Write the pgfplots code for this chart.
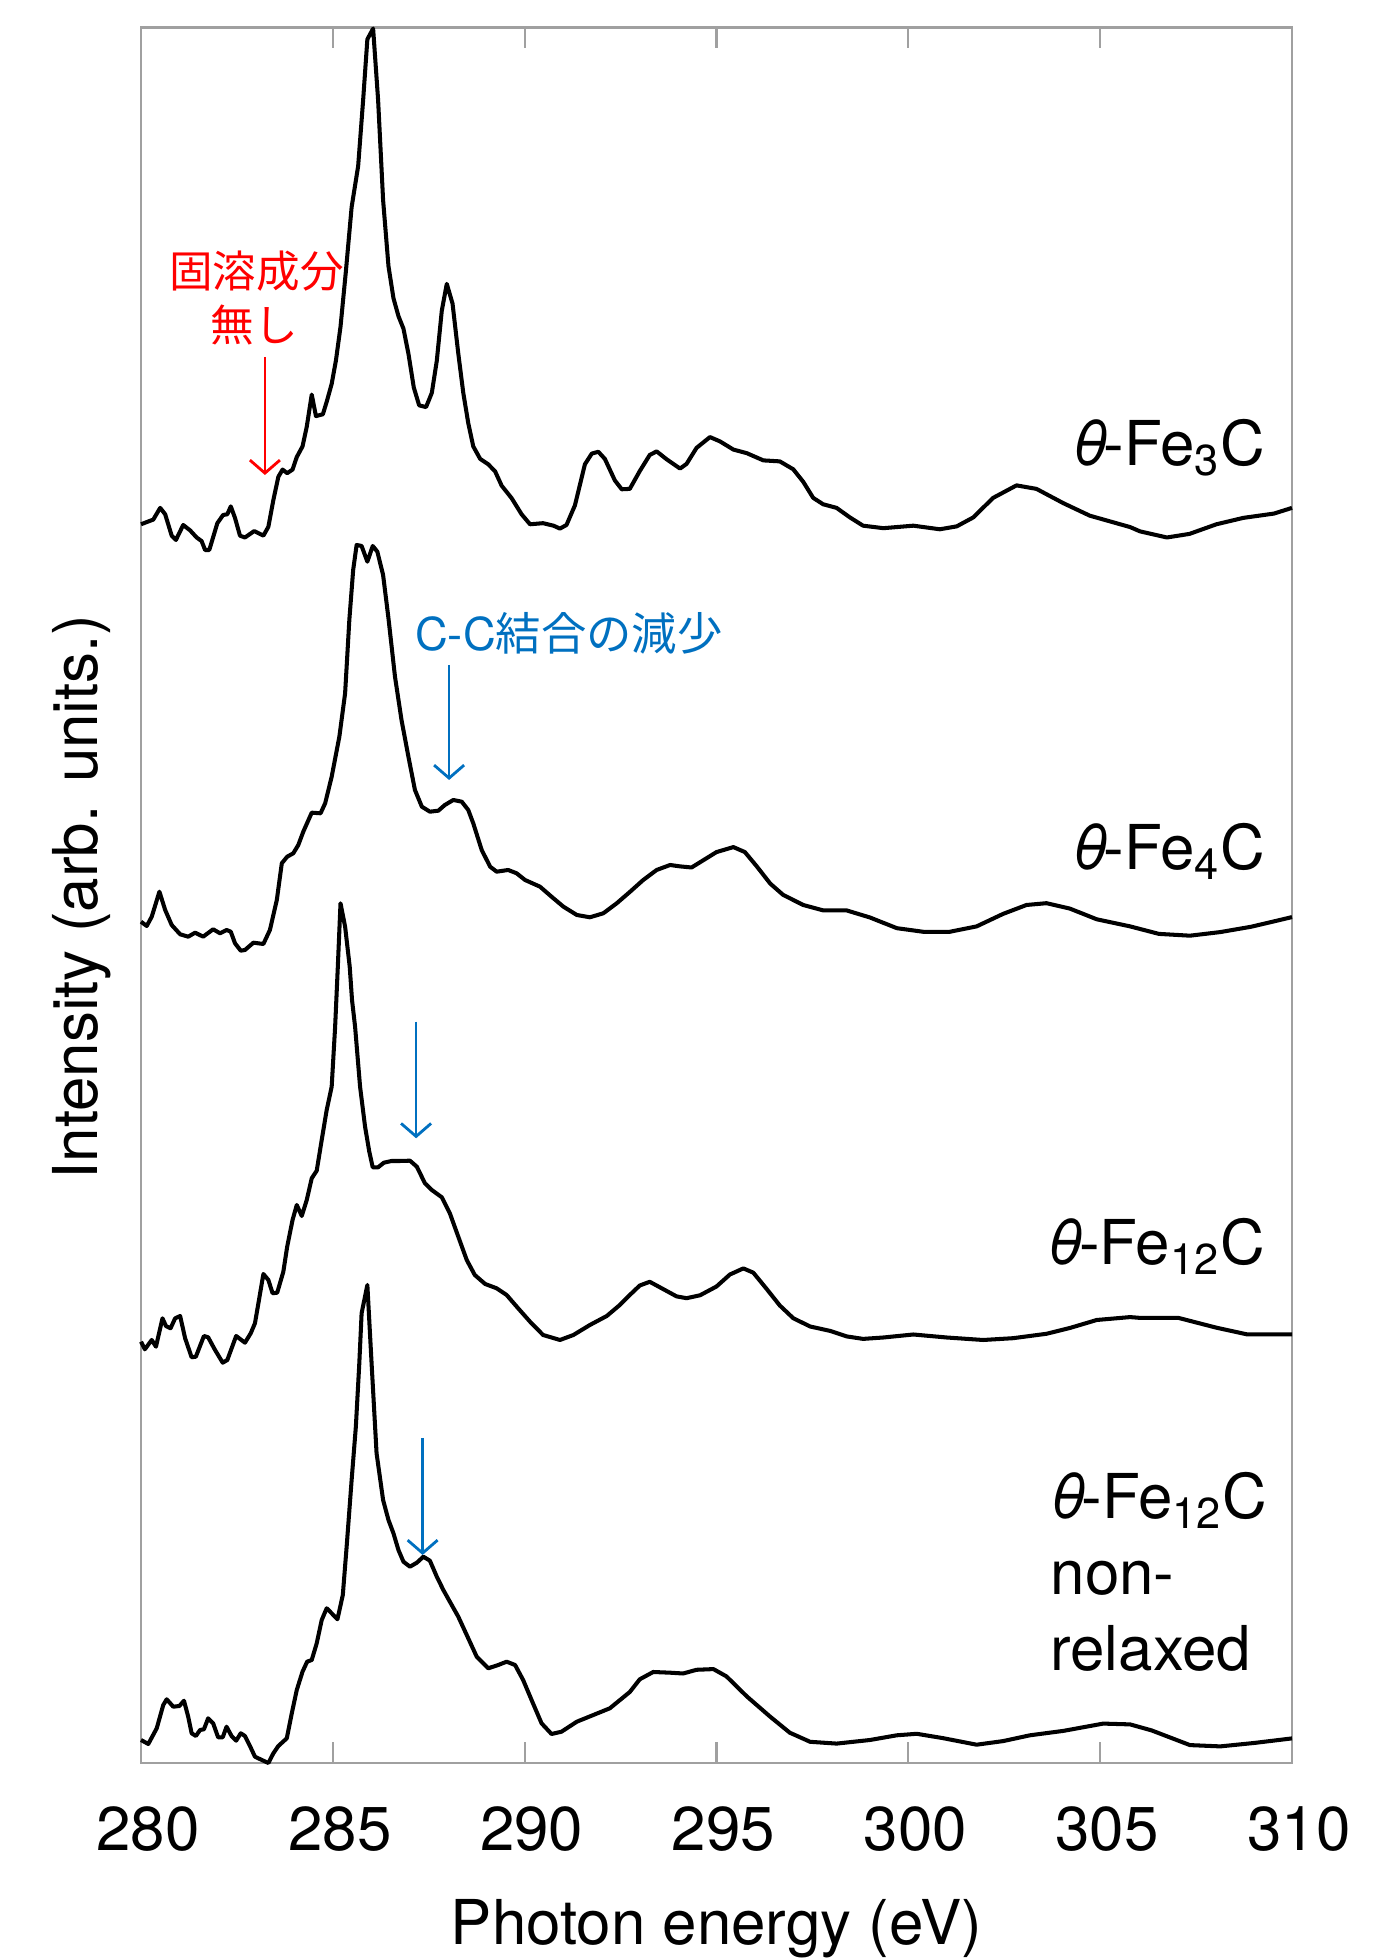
\documentclass[border=0pt]{standalone}
\usepackage{pgfplots}
\pgfplotsset{compat=1.18}
\usepackage{fontspec}
\setmainfont{TeX Gyre Heros}
\newfontfamily\jp{Noto Sans CJK JP}
\usetikzlibrary{arrows.meta}
\definecolor{annred}{RGB}{255,0,0}
\definecolor{annblue}{RGB}{0,112,192}
\definecolor{framegray}{RGB}{160,160,160}
\newcommand{\lab}{\fontsize{17.6}{21}\selectfont}
\newcommand{\jps}{\jp\fontsize{12.4}{15}\selectfont}
\newcommand{\jpb}{\jp\fontsize{12.9}{15}\selectfont}
\newcommand{\tht}{\textit{θ}\kern-0.08em}
\begin{document}
\begin{tikzpicture}
\path[use as bounding box] (0,0) rectangle (14cm,19.6cm);
\begin{axis}[
  at={(1.41cm,1.97cm)}, anchor=south west,
  width=11.51cm, height=17.355cm, scale only axis,
  xmin=280, xmax=310, ymin=-1763, ymax=-27.5,
  xtick={280,285,...,310}, ytick=\empty,
  tick align=inside,
  major tick length=0.21cm,
  axis line style={framegray, line width=0.6pt},
  major tick style={framegray, line width=0.6pt},
  xticklabel style={font=\lab, anchor=base, yshift=-0.87cm, xshift=0.07cm},
  /pgf/number format/assume math mode=true,
  clip=false,
]
% theta-Fe3C
\addplot[black, line width=1.15pt, line join=round, mark=none] coordinates {
(280.00,-524.3) (280.32,-519.6) (280.50,-507.9) (280.63,-514.3) (280.80,-535.7) (280.91,-540.0) (281.10,-525.0) (281.28,-530.4) (281.45,-537.5) (281.58,-541.1) (281.67,-550.0) (281.78,-550.0) (281.99,-523.2) (282.14,-515.0) (282.25,-514.3) (282.34,-506.4) (282.45,-517.9) (282.58,-535.7) (282.71,-537.5) (282.95,-531.1) (283.19,-535.7) (283.32,-526.8) (283.45,-500.0) (283.58,-476.8) (283.69,-469.6) (283.81,-473.2) (283.95,-469.6) (284.06,-457.1) (284.21,-446.4) (284.32,-426.8) (284.45,-394.6) (284.56,-416.1) (284.74,-414.3) (284.84,-401.8) (284.97,-383.9) (285.08,-360.7) (285.20,-326.8) (285.34,-271.4) (285.49,-207.1) (285.66,-166.1) (285.79,-100.0) (285.90,-39.3) (286.05,-28.6) (286.18,-100.0) (286.31,-200.0) (286.45,-266.1) (286.58,-298.2) (286.71,-316.1) (286.84,-328.6) (286.97,-353.6) (287.11,-387.5) (287.25,-405.4) (287.43,-407.1) (287.58,-392.9) (287.71,-360.7) (287.84,-310.7) (287.97,-283.9) (288.12,-303.6) (288.27,-353.6) (288.40,-392.9) (288.53,-423.2) (288.66,-446.4) (288.84,-458.9) (289.05,-464.3) (289.23,-471.4) (289.40,-485.7) (289.66,-498.2) (289.92,-514.3) (290.14,-524.3) (290.48,-523.2) (290.75,-525.7) (290.92,-528.6) (291.09,-525.0) (291.31,-505.4) (291.57,-464.3) (291.75,-453.6) (291.92,-451.8) (292.09,-458.9) (292.35,-480.4) (292.53,-489.3) (292.74,-488.9) (293.00,-471.1) (293.26,-455.0) (293.44,-451.4) (293.70,-459.3) (294.05,-468.6) (294.22,-463.9) (294.48,-447.9) (294.83,-437.1) (295.09,-441.4) (295.44,-449.6) (295.79,-453.2) (296.22,-460.4) (296.65,-461.4) (297.00,-469.3) (297.26,-481.8) (297.52,-497.9) (297.78,-504.3) (298.13,-507.9) (298.48,-517.5) (298.82,-525.7) (299.35,-528.2) (300.13,-525.7) (300.82,-529.3) (301.26,-526.4) (301.69,-517.5) (302.21,-497.9) (302.82,-485.4) (303.34,-488.9) (304.04,-503.2) (304.73,-515.7) (305.78,-527.1) (306.04,-531.4) (306.74,-537.5) (307.33,-533.9) (308.03,-524.3) (308.73,-517.9) (309.53,-513.6) (310.00,-507.9)
};
% theta-Fe4C
\addplot[black, line width=1.15pt, line join=round, mark=none] coordinates {
(280.00,-921.7) (280.15,-926.0) (280.28,-916.7) (280.48,-891.7) (280.63,-910.0) (280.80,-925.0) (281.02,-934.3) (281.23,-936.7) (281.41,-932.7) (281.62,-936.7) (281.88,-929.3) (282.06,-933.3) (282.23,-930.0) (282.34,-931.7) (282.45,-943.3) (282.60,-950.7) (282.71,-950.0) (282.93,-942.7) (283.19,-944.0) (283.36,-930.0) (283.54,-900.0) (283.67,-863.3) (283.81,-856.7) (283.97,-853.3) (284.10,-845.0) (284.23,-831.7) (284.45,-812.7) (284.68,-813.3) (284.80,-803.3) (284.97,-776.7) (285.17,-736.7) (285.32,-693.3) (285.43,-620.0) (285.53,-570.0) (285.62,-545.0) (285.75,-546.0) (285.90,-561.7) (286.04,-546.0) (286.16,-551.7) (286.31,-575.0) (286.45,-618.3) (286.62,-676.7) (286.79,-720.0) (286.97,-756.7) (287.14,-790.0) (287.32,-806.7) (287.53,-811.7) (287.75,-810.7) (287.92,-805.0) (288.14,-800.0) (288.36,-801.7) (288.53,-810.0) (288.66,-823.3) (288.88,-850.0) (289.10,-866.7) (289.27,-871.7) (289.57,-870.0) (289.79,-873.3) (290.01,-880.0) (290.40,-886.7) (290.70,-896.7) (291.01,-906.7) (291.36,-915.0) (291.70,-917.3) (292.05,-913.3) (292.40,-903.3) (292.74,-892.0) (293.09,-880.0) (293.44,-870.0) (293.79,-865.0) (294.05,-866.4) (294.35,-867.5) (294.65,-860.4) (295.00,-852.1) (295.44,-847.1) (295.74,-852.1) (296.05,-866.4) (296.40,-883.6) (296.74,-895.0) (297.26,-905.0) (297.78,-910.4) (298.39,-910.4) (299.00,-917.5) (299.70,-928.2) (300.39,-931.8) (301.08,-931.8) (301.78,-926.4) (302.47,-913.9) (303.08,-905.0) (303.60,-903.2) (304.21,-908.6) (304.91,-919.3) (305.78,-926.4) (306.53,-933.9) (307.34,-935.7) (308.13,-932.1) (308.93,-926.8) (309.53,-921.4) (310.00,-917.1)
};
% theta-Fe12C
\addplot[black, line width=1.15pt, line join=round, mark=none] coordinates {
(280.00,-1341.7) (280.10,-1349.3) (280.28,-1340.0) (280.39,-1346.7) (280.56,-1318.3) (280.65,-1326.0) (280.77,-1328.3) (280.89,-1318.3) (281.02,-1316.0) (281.15,-1338.3) (281.32,-1357.3) (281.43,-1356.7) (281.64,-1336.0) (281.75,-1337.3) (281.93,-1350.0) (282.13,-1362.7) (282.25,-1360.0) (282.48,-1336.0) (282.71,-1342.7) (282.86,-1333.3) (282.97,-1323.3) (283.06,-1303.3) (283.19,-1274.0) (283.32,-1280.0) (283.43,-1293.3) (283.55,-1292.7) (283.71,-1271.7) (283.81,-1246.7) (283.95,-1220.0) (284.06,-1205.0) (284.19,-1216.0) (284.32,-1200.0) (284.45,-1178.3) (284.58,-1170.7) (284.71,-1140.0) (284.84,-1110.0) (284.97,-1086.7) (285.06,-1026.7) (285.13,-966.7) (285.20,-903.3) (285.32,-926.7) (285.44,-966.7) (285.50,-1000.0) (285.58,-1026.7) (285.71,-1086.7) (285.84,-1126.7) (285.95,-1151.7) (286.04,-1167.3) (286.18,-1167.3) (286.33,-1162.7) (286.53,-1161.0) (286.75,-1161.0) (287.01,-1160.7) (287.19,-1166.7) (287.40,-1183.3) (287.58,-1190.0) (287.84,-1197.3) (288.05,-1213.3) (288.27,-1236.7) (288.49,-1260.0) (288.70,-1275.0) (288.97,-1284.0) (289.27,-1288.3) (289.53,-1295.0) (289.83,-1308.3) (290.14,-1321.7) (290.48,-1335.0) (290.92,-1340.0) (291.27,-1335.0) (291.70,-1325.0) (292.14,-1316.0) (292.48,-1305.0) (292.74,-1295.0) (293.00,-1285.5) (293.26,-1281.8) (293.61,-1289.1) (293.96,-1296.4) (294.22,-1298.2) (294.57,-1295.3) (295.00,-1286.5) (295.35,-1274.5) (295.70,-1268.4) (295.96,-1272.7) (296.31,-1289.1) (296.65,-1305.5) (297.00,-1318.2) (297.44,-1326.5) (297.96,-1330.9) (298.39,-1336.4) (298.82,-1338.9) (299.35,-1337.5) (300.13,-1334.5) (301.00,-1337.5) (301.95,-1340.0) (302.73,-1338.2) (303.60,-1333.8) (304.21,-1328.0) (304.91,-1320.0) (305.78,-1317.1) (306.04,-1317.9) (307.04,-1317.9) (308.03,-1327.7) (308.83,-1334.4) (310.00,-1334.4)
};
% theta-Fe12C non-relaxed
\addplot[black, line width=1.15pt, line join=round, mark=none] coordinates {
(280.00,-1740.0) (280.19,-1744.0) (280.41,-1728.3) (280.58,-1705.0) (280.67,-1699.3) (280.84,-1706.7) (281.00,-1706.0) (281.12,-1700.7) (281.23,-1716.7) (281.32,-1733.3) (281.43,-1736.0) (281.54,-1730.0) (281.64,-1729.3) (281.75,-1718.3) (281.88,-1723.3) (282.01,-1737.3) (282.13,-1737.3) (282.23,-1726.7) (282.36,-1736.0) (282.48,-1740.7) (282.60,-1733.3) (282.71,-1736.0) (282.84,-1746.0) (282.97,-1756.7) (283.15,-1760.0) (283.32,-1763.0) (283.45,-1753.3) (283.58,-1746.0) (283.80,-1738.3) (283.93,-1713.3) (284.06,-1690.0) (284.21,-1671.7) (284.33,-1661.7) (284.45,-1660.0) (284.58,-1643.3) (284.71,-1620.0) (284.84,-1608.3) (284.97,-1613.3) (285.12,-1619.3) (285.26,-1595.0) (285.36,-1546.7) (285.49,-1480.0) (285.60,-1426.7) (285.69,-1363.3) (285.75,-1313.3) (285.90,-1285.0) (286.01,-1363.3) (286.14,-1453.3) (286.31,-1500.0) (286.45,-1520.0) (286.58,-1533.3) (286.71,-1550.0) (286.84,-1561.7) (287.01,-1566.7) (287.19,-1562.7) (287.36,-1556.7) (287.53,-1560.7) (287.71,-1576.7) (287.88,-1590.0) (288.05,-1601.7) (288.27,-1616.7) (288.49,-1635.0) (288.75,-1656.7) (289.05,-1668.3) (289.31,-1665.0) (289.53,-1661.7) (289.75,-1665.0) (289.96,-1680.0) (290.18,-1700.0) (290.44,-1723.3) (290.70,-1734.0) (290.96,-1731.7) (291.36,-1721.7) (291.79,-1715.0) (292.22,-1708.3) (292.74,-1692.0) (293.00,-1679.3) (293.35,-1672.0) (293.79,-1672.7) (294.13,-1673.5) (294.48,-1669.8) (294.92,-1669.1) (295.26,-1676.4) (295.79,-1696.4) (296.39,-1716.4) (296.91,-1732.7) (297.44,-1741.8) (298.13,-1743.6) (299.00,-1740.0) (299.70,-1735.3) (300.22,-1733.8) (300.91,-1738.2) (301.78,-1744.7) (302.47,-1741.1) (303.17,-1735.3) (304.04,-1730.9) (305.08,-1723.6) (305.78,-1724.4) (306.34,-1730.4) (307.34,-1745.1) (308.13,-1746.4) (309.03,-1742.9) (310.00,-1738.4)
};
% series labels
\node[anchor=base east, inner sep=0, font=\lab] at (axis cs:309.32,-466) {\tht-Fe\textsubscript{3}C};
\node[anchor=base east, inner sep=0, font=\lab] at (axis cs:309.32,-869.6) {\tht-Fe\textsubscript{4}C};
\node[anchor=base east, inner sep=0, font=\lab] at (axis cs:309.31,-1264.3) {\tht-Fe\textsubscript{12}C};
\node[anchor=base west, inner sep=0, font=\lab] at (axis cs:303.69,-1518.8) {\tht-Fe\textsubscript{12}C};
\node[anchor=base west, inner sep=0, font=\lab] at (axis cs:303.69,-1594.6) {non-};
\node[anchor=base west, inner sep=0, font=\lab] at (axis cs:303.69,-1670.5) {relaxed};
% annotations
\node[inner sep=0, text=annred, font=\jps] at (axis cs:283.01,-271.4) {固溶成分};
\node[inner sep=0, text=annred, font=\jps] at (axis cs:282.95,-325) {無し};
\draw[annred, line width=0.8pt, -{Straight Barb[length=1.3mm,width=3mm]}] (axis cs:283.23,-357) -- (axis cs:283.23,-475);
\node[anchor=west, inner sep=0, text=annblue, font=\jpb] at (axis cs:287.13,-633) {{\rmfamily\fontsize{12.9}{15}\selectfont C-C}結合の減少};
\draw[annblue, line width=0.8pt, -{Straight Barb[length=1.3mm,width=3mm]}] (axis cs:288.03,-665) -- (axis cs:288.03,-780);
\draw[annblue, line width=0.8pt, -{Straight Barb[length=1.3mm,width=3mm]}] (axis cs:287.17,-1021.7) -- (axis cs:287.17,-1138.3);
\draw[annblue, line width=0.8pt, -{Straight Barb[length=1.3mm,width=3mm]}] (axis cs:287.34,-1438) -- (axis cs:287.34,-1555);
\end{axis}
\node[rotate=90, anchor=base, inner sep=0, font=\lab] at (0.97cm,10.63cm) {Intensity (arb. units.)};
\node[anchor=base, inner sep=0, font=\lab] at (7.165cm,0.15cm) {Photon energy (eV)};
\end{tikzpicture}
\end{document}
